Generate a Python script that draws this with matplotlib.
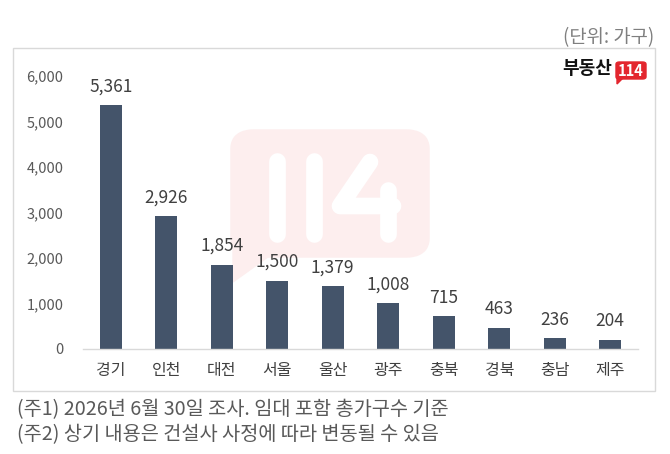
import matplotlib
matplotlib.use("Agg")
import matplotlib.pyplot as plt
from matplotlib.patches import FancyBboxPatch, Rectangle, Polygon
from matplotlib.lines import Line2D
from matplotlib.ticker import FuncFormatter

plt.rcParams['font.family'] = ['Noto Sans CJK KR', 'DejaVu Sans']

categories = ['경기', '인천', '대전', '서울', '울산', '광주', '충북', '경북', '충남', '제주']
values = [5361, 2926, 1854, 1500, 1379, 1008, 715, 463, 236, 204]
yticks = [0, 1000, 2000, 3000, 4000, 5000, 6000]
unit_text = '(단위: 가구)'
notes = ['(주1) 2026년 6월 30일 조사. 임대 포함 총가구수 기준',
         '(주2) 상기 내용은 건설사 사정에 따라 변동될 수 있음']

W, H = 670, 454
fig = plt.figure(figsize=(W / 100, H / 100), dpi=100)


def fx(x):
    return x / W


def fy(y):
    return 1 - y / H


# outer box
fig.patches.append(Rectangle((fx(13), fy(391)), fx(655) - fx(13), fy(48) - fy(391),
                             transform=fig.transFigure, fill=False,
                             edgecolor='#D9D9D9', linewidth=1.0, zorder=0))

# watermark speech bubble
pink = '#FDEEEE'
fig.patches.append(FancyBboxPatch((fx(240), fy(248)), fx(420) - fx(240), fy(139) - fy(248),
                                  boxstyle='round,pad=0.0,rounding_size=0.02',
                                  transform=fig.transFigure, facecolor=pink,
                                  edgecolor=pink, linewidth=14, zorder=0,
                                  joinstyle='round'))
fig.patches.append(Polygon([(fx(233), fy(245)), (fx(233), fy(282)), (fx(272), fy(254))],
                           closed=True, transform=fig.transFigure, facecolor=pink,
                           edgecolor=pink, zorder=0))
wm_lw = 12
for xs, ys in [([277, 277], [161, 234]),
               ([314, 314], [161, 234]),
               ([370, 340, 393], [162, 206, 206]),
               ([388, 388], [190, 234])]:
    fig.lines.append(Line2D([fx(v) for v in xs], [fy(v) for v in ys],
                            transform=fig.transFigure, color='white', linewidth=wm_lw,
                            solid_capstyle='round', solid_joinstyle='round', zorder=0.5))

ax = fig.add_axes([fx(83), fy(349), fx(638) - fx(83), fy(76) - fy(349)])
ax.set_zorder(2)
ax.patch.set_alpha(0)
x = range(len(categories))
bars = ax.bar(x, values, width=0.4, color='#44546A', zorder=2)
ax.set_xlim(-0.5, len(categories) - 0.5)
ax.set_ylim(0, 6000)
ax.set_yticks(yticks)
ax.yaxis.set_major_formatter(FuncFormatter(lambda v, p: f'{int(v):,}'))
ax.set_xticks(list(x))
ax.set_xticklabels(categories)
for s in ['top', 'right', 'left']:
    ax.spines[s].set_visible(False)
ax.spines['bottom'].set_color('#D9D9D9')
ax.spines['bottom'].set_linewidth(1.0)
ax.tick_params(axis='y', length=0, pad=14, labelsize=10.5, labelcolor='#595959')
ax.tick_params(axis='x', length=0, pad=9, labelsize=11.5, labelcolor='#404040')

for b, v in zip(bars, values):
    ax.annotate(f'{v:,}', (b.get_x() + b.get_width() / 2, v), xytext=(0, 7),
                textcoords='offset points', ha='center', va='bottom',
                fontsize=12.5, color='#404040')

# unit label
fig.text(fx(654), fy(38), unit_text, ha='right', va='center', fontsize=13.5, color='#7F7F7F')

# logo
fig.text(fx(612), fy(69), '부동산', ha='right', va='center', fontsize=13,
         fontweight='bold', color='#111111')
fig.patches.append(FancyBboxPatch((fx(616), fy(79)), fx(646) - fx(616), fy(62) - fy(79),
                                  boxstyle='round,pad=0.0,rounding_size=0.005',
                                  transform=fig.transFigure, facecolor='#E3262E',
                                  edgecolor='#E3262E', zorder=1))
fig.patches.append(Polygon([(fx(617), fy(77)), (fx(617), fy(84)), (fx(623), fy(78))],
                           closed=True, transform=fig.transFigure, facecolor='#E3262E',
                           edgecolor='#E3262E', zorder=1))
fig.text(fx(631), fy(70.5), '114', ha='center', va='center', fontsize=10.5,
         fontweight='bold', color='white', zorder=2)

# footnotes
fig.text(fx(17), fy(410), notes[0], ha='left', va='center', fontsize=14.2, color='#595959')
fig.text(fx(17), fy(435), notes[1], ha='left', va='center', fontsize=14.2, color='#595959')

fig.savefig('out.png', dpi=100)
